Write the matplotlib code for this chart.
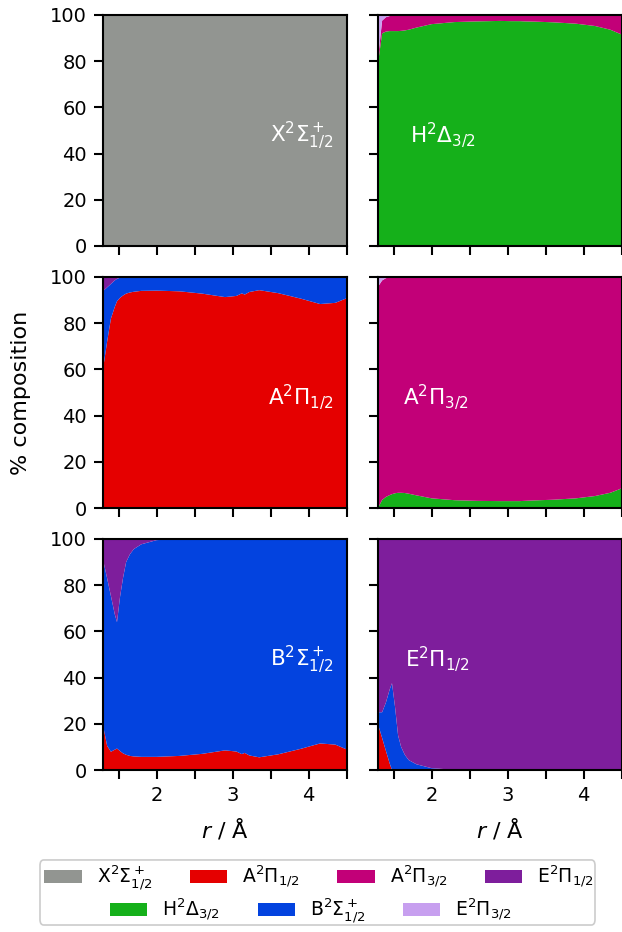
import numpy as np
import matplotlib
matplotlib.use('Agg')
import matplotlib.pyplot as plt
from matplotlib.patches import Patch, FancyBboxPatch
from matplotlib.ticker import MultipleLocator, FuncFormatter

##################
# DATA (% composition of each adiabatic state vs r / Angstrom)
##################
r = [1.30, 1.35, 1.40, 1.45, 1.48, 1.52, 1.56, 1.60, 1.65, 1.70, 1.80, 2.00, 2.30,
     2.60, 2.90, 3.05, 3.12, 3.16, 3.22, 3.35, 3.60, 3.90, 4.15, 4.35, 4.50]

# X state
x_X = [100, 100, 100, 100, 100, 100, 100, 100, 100, 100, 100, 100, 100,
       100, 100, 100, 100, 100, 100, 100, 100, 100, 100, 100, 100]

# H 3/2 state
h_H = [80.0, 92.0, 92.8, 93.0, 93.0, 93.0, 93.0, 93.1, 93.3, 93.6, 94.5, 96.0, 96.9,
       97.2, 97.4, 97.3, 97.3, 97.3, 97.2, 97.1, 96.8, 96.2, 95.2, 93.6, 91.5]
a32_H = [2.0, 5.5, 6.2, 6.5, 6.7, 6.8, 6.9, 6.8, 6.6, 6.3, 5.5, 4.0, 3.1,
         2.8, 2.6, 2.7, 2.7, 2.7, 2.8, 2.9, 3.2, 3.8, 4.8, 6.4, 8.5]
e32_H = [18.0, 2.5, 1.0, 0.5, 0.3, 0.2, 0.1, 0.1, 0.1, 0.1, 0, 0, 0,
         0, 0, 0, 0, 0, 0, 0, 0, 0, 0, 0, 0]

# A 1/2 state
a12_A = [61.0, 72.0, 82.0, 87.0, 89.5, 91.0, 92.0, 92.8, 93.3, 93.6, 94.0, 94.1, 93.8,
         92.8, 91.3, 91.8, 92.9, 92.4, 93.5, 94.3, 93.0, 90.6, 88.3, 88.8, 90.8]
b_A = [33.0, 23.5, 15.0, 11.5, 9.7, 8.7, 8.0, 7.2, 6.7, 6.4, 6.0, 5.9, 6.2,
       7.2, 8.7, 8.2, 7.1, 7.6, 6.5, 5.7, 7.0, 9.4, 11.7, 11.2, 9.2]
e12_A = [6.0, 4.5, 3.0, 1.5, 0.8, 0.3, 0, 0, 0, 0, 0, 0, 0,
         0, 0, 0, 0, 0, 0, 0, 0, 0, 0, 0, 0]

# A 3/2 state
h_A3 = [0.3, 3.5, 4.8, 5.6, 6.0, 6.4, 6.6, 6.6, 6.5, 6.2, 5.5, 4.2, 3.4,
        3.1, 3.0, 3.0, 3.0, 3.0, 3.1, 3.3, 3.6, 4.2, 5.2, 6.6, 8.5]
a32_A3 = [95.7, 95.0, 94.7, 94.2, 93.9, 93.6, 93.4, 93.4, 93.5, 93.8, 94.5, 95.8, 96.6,
          96.9, 97.0, 97.0, 97.0, 97.0, 96.9, 96.7, 96.4, 95.8, 94.8, 93.4, 91.5]
e32_A3 = [4.0, 1.5, 0.5, 0.2, 0.1, 0, 0, 0, 0, 0, 0, 0, 0,
          0, 0, 0, 0, 0, 0, 0, 0, 0, 0, 0, 0]

# B state
a12_B = [18.7, 10.5, 7.9, 8.8, 9.3, 8.2, 7.2, 6.6, 6.1, 5.9, 5.7, 5.7, 6.1,
         7.0, 8.5, 8.0, 6.9, 7.4, 6.3, 5.5, 6.8, 9.2, 11.5, 11.0, 8.9]
b_B = [71.8, 72.5, 67.4, 58.7, 54.7, 66.8, 76.1, 83.4, 87.3, 89.7, 92.0, 93.8, 93.9,
       93.0, 91.5, 92.0, 93.1, 92.6, 93.7, 94.5, 93.2, 90.8, 88.5, 89.0, 91.1]
e12_B = [9.5, 17.0, 24.7, 32.5, 36.0, 25.0, 16.7, 10.0, 6.6, 4.4, 2.3, 0.5, 0,
         0, 0, 0, 0, 0, 0, 0, 0, 0, 0, 0, 0]

# E 1/2 state
a12_E = [19.4, 13.9, 8.3, 2.8, 0, 0, 0, 0, 0, 0, 0, 0, 0,
         0, 0, 0, 0, 0, 0, 0, 0, 0, 0, 0, 0]
b_E = [5.6, 11.1, 20.9, 32.1, 37.6, 27.3, 15.0, 10.0, 6.5, 4.3, 2.5, 0.8, 0.1,
       0, 0, 0, 0, 0, 0, 0, 0, 0, 0, 0, 0]
e12_E = [75.0, 75.0, 70.8, 65.1, 62.4, 72.7, 85.0, 90.0, 93.5, 95.7, 97.5, 99.2, 99.9,
         100, 100, 100, 100, 100, 100, 100, 100, 100, 100, 100, 100]

####################
# STYLE
####################
cols = {'X': '#929591', 'A12': '#e50000', 'A32': '#c20078', 'E12': '#7e1e9c',
        'H': '#15b01a', 'B': '#0343df', 'E32': '#c79fef'}
names = {'X': r'X$^2\Sigma^+_{1/2}$', 'A12': r'A$^2\Pi_{1/2}$', 'A32': r'A$^2\Pi_{3/2}$',
         'E12': r'E$^2\Pi_{1/2}$', 'H': r'H$^2\Delta_{3/2}$', 'B': r'B$^2\Sigma^+_{1/2}$',
         'E32': r'E$^2\Pi_{3/2}$'}

panels = [
    ([('X', x_X)], 'X', 0.945, 'right'),
    ([('H', h_H), ('A32', a32_H), ('E32', e32_H)], 'H', 0.13, 'left'),
    ([('A12', a12_A), ('B', b_A), ('E12', e12_A)], 'A12', 0.945, 'right'),
    ([('H', h_A3), ('A32', a32_A3), ('E32', e32_A3)], 'A32', 0.10, 'left'),
    ([('A12', a12_B), ('B', b_B), ('E12', e12_B)], 'B', 0.945, 'right'),
    ([('A12', a12_E), ('B', b_E), ('E12', e12_E)], 'E12', 0.11, 'left'),
]

fig = plt.figure(figsize=(6.22, 9.32), dpi=100)
lefts = [0.1661, 0.6082]
bottoms = [0.7361, 0.4549, 0.1738]
w, h = 0.3913, 0.2479

for i, (comps, lab, tx, ha) in enumerate(panels):
    row, col = i // 2, i % 2
    ax = fig.add_axes([lefts[col], bottoms[row], w, h])
    ax.stackplot(r, *[np.array(v) for k, v in comps],
                 colors=[cols[k] for k, v in comps], linewidth=0)
    ax.set_xlim(1.3, 4.5)
    ax.set_ylim(0, 100)
    ax.xaxis.set_major_locator(MultipleLocator(0.5))
    ax.yaxis.set_major_locator(MultipleLocator(20))
    if row == 2:
        ax.xaxis.set_major_formatter(FuncFormatter(
            lambda v, p: '%d' % v if abs(v - round(v)) < 1e-6 else ''))
        ax.set_xlabel('$r$ / Å', fontsize=16, labelpad=8)
    else:
        ax.set_xticklabels([])
    if col == 1:
        ax.set_yticklabels([])
    ax.tick_params(labelsize=14, width=1.5, length=6.7, pad=5)
    for s in ax.spines.values():
        s.set_linewidth(1.5)
    ax.text(tx, 0.48, names[lab], transform=ax.transAxes, ha=ha, va='center',
            color='white', fontsize=15.5)

fig.text(0.034, bottoms[1] + h / 2, '% composition', rotation=90,
         ha='center', va='center', fontsize=16)

# legend: framed box with two centred rows
box = FancyBboxPatch((0.0643, 0.0075), 0.8923, 0.0698, transform=fig.transFigure,
                     boxstyle='round,pad=0,rounding_size=0.006', facecolor='white',
                     edgecolor='0.8', linewidth=1.2)
fig.patches.append(box)
row1 = ['X', 'A12', 'A32', 'E12']
row2 = ['H', 'B', 'E32']
for keys, xx, yy in [(row1, 0.513, 1 - 878 / 932.), (row2, 0.5, 1 - 911 / 932.)]:
    hs = [Patch(facecolor=cols[k], label=names[k]) for k in keys]
    fig.legend(handles=hs, ncol=len(keys), loc='center', bbox_to_anchor=(xx, yy),
               frameon=False, fontsize=13.5, columnspacing=2.0, borderpad=0)

fig.savefig('out.png', dpi=100)
